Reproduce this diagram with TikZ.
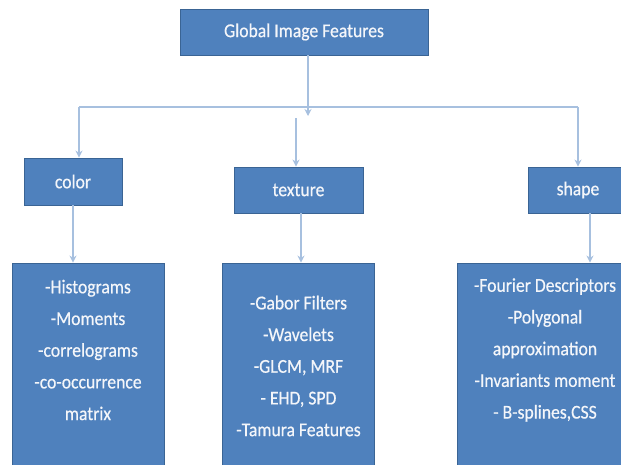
\documentclass[tikz,border=0pt]{standalone}
\usepackage{fontspec}
\setmainfont{Carlito}[FakeStretch=0.9,FakeBold=0.5]
\usetikzlibrary{arrows.meta}
\definecolor{boxfill}{HTML}{4F81BD}
\definecolor{boxline}{HTML}{3A6494}
\definecolor{connc}{HTML}{A7C0DF}
\definecolor{txt}{HTML}{F4F6FA}
\begin{document}
\begin{tikzpicture}[x=1pt,y=-1pt,
  box/.style={draw=boxline, line width=0.9pt, fill=boxfill, text=txt, inner sep=0pt,
              font=\fontsize{19.6}{22}\selectfont},
  lowtext/.style={text=txt, align=center, inner sep=0pt,
              font=\fontsize{19.6}{31.7}\selectfont},
  link/.style={draw=connc, line width=2pt},
  arr/.style={link, -{Stealth[length=7pt,width=7pt]}}]
\useasboundingbox (0,0) rectangle (621,464);
\clip (0,0) rectangle (621,464);

% boxes
\node[box, minimum width=248pt, minimum height=46pt] (g) at (304,32) {Global Image Features};
\node[box, minimum width=98pt, minimum height=47pt] (c) at (73,181.5) {color};
\node[box, minimum width=129pt, minimum height=46pt] (t) at (298.5,190) {texture};
\node[box, minimum width=100pt, minimum height=46pt] (s) at (578,190) {shape};

\node[box, minimum width=152pt, minimum height=217pt] (cl) at (88,371.5) {};
\node[box, minimum width=152pt, minimum height=217pt] (tl) at (298,371.5) {};
\node[box, minimum width=176pt, minimum height=217pt] (sl) at (545,371.5) {};

\node[lowtext] (clt) at (88,350) {-Histograms\\-Moments\\-correlograms\\-co-occurrence\\matrix};
\node[lowtext] (tlt) at (298.5,366) {-Gabor Filters\\-Wavelets\\-GLCM, MRF\\- EHD, SPD\\-Tamura Features};
\node[lowtext] (slt) at (545,350) {-Fourier Descriptors\\-Polygonal\\approximation\\-Invariants moment\\- B-splines,CSS};

% connectors
\coordinate (hl) at (79,107);
\coordinate (hr) at (578,107);
\coordinate (gend) at (308,116);
\coordinate (tstart) at (296,118);
\draw[link] (hl) -- (hr);
\draw[arr] (hl) -- (hl |- c.north);
\draw[arr] (hr) -- (hr |- s.north);
\draw[arr] (g.south -| gend) -- (gend);
\draw[arr] (tstart) -- (tstart |- t.north);
\draw[arr] (c.south) -- (c.south |- cl.north);
\draw[arr] ([xshift=2.5pt]t.south) -- ([xshift=2.5pt]t.south |- tl.north);
\draw[arr] ([xshift=12pt]s.south) -- ([xshift=12pt]s.south |- sl.north);
\end{tikzpicture}
\end{document}
